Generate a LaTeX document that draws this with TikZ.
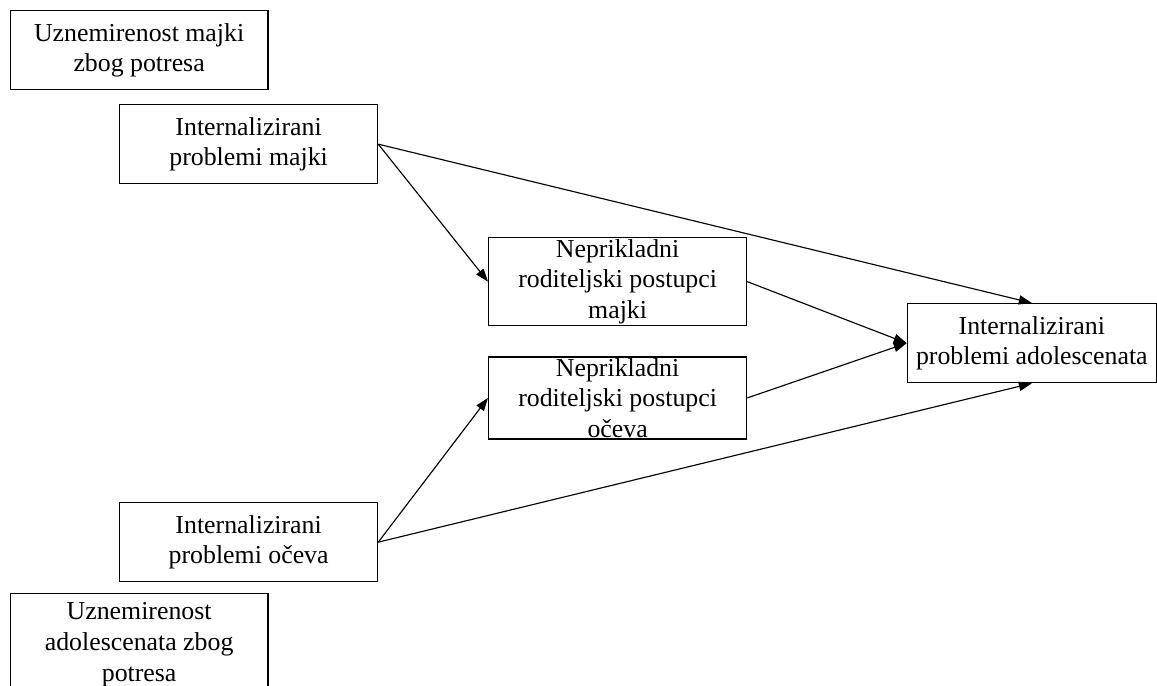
\documentclass[tikz,border=0pt]{standalone}
\usepackage{fontspec}
\setmainfont{Liberation Serif}
\usetikzlibrary{arrows.meta,positioning}
\tikzset{
  box/.style={draw,line width=0.75pt,align=center,inner sep=0pt,
    minimum width=5.16cm,minimum height=1.58cm,
    font=\fontsize{14.7}{17.4}\selectfont},
  >={Triangle[length=7.4pt,width=5.2pt]}
}

\begin{document}
\begin{tikzpicture}[x=0.02cm,y=-0.02cm,
      arr/.style={->,line width=0.65pt}]
    \useasboundingbox (0,0) rectangle (1157,686);
    % predictors on the left
    \node[box,anchor=north west] (uzMaj) at (9.5,10) {Uznemirenost majki\\ zbog potresa};
    \node[box,anchor=north west] (intMaj) at (119,104) {Internalizirani\\ problemi majki};
    \node[box,anchor=north west] (intOce) at (119,502) {Internalizirani\\ problemi očeva};
    \node[box,anchor=north west,minimum height=2.04cm] (uzAdol) at (9.5,593) {Uznemirenost\\ adolescenata zbog\\ potresa};
    % mediators
    \node[box,anchor=north west,minimum height=1.76cm] (nrpMaj) at (488,237) {Neprikladni\\ roditeljski postupci\\ majki};
    \node[box,below=0.6cm of nrpMaj,minimum height=1.64cm] (nrpOce) {Neprikladni\\ roditeljski postupci\\ očeva};
    % outcome
    \node[box,anchor=north west,minimum width=4.98cm] (intAdol) at (906.7,303) {Internalizirani\\ problemi adolescenata};
    \draw[arr] (intMaj.east)--(nrpMaj.west);
    \draw[arr] (intMaj.east)--(intAdol.north);
    \draw[arr] (nrpMaj.east)--(intAdol.west);
    \draw[arr] (nrpOce.east)--(intAdol.west);
    \draw[arr] (intOce.east)--(nrpOce.west);
    \draw[arr] (intOce.east)--(intAdol.south);
\end{tikzpicture}
\end{document}
